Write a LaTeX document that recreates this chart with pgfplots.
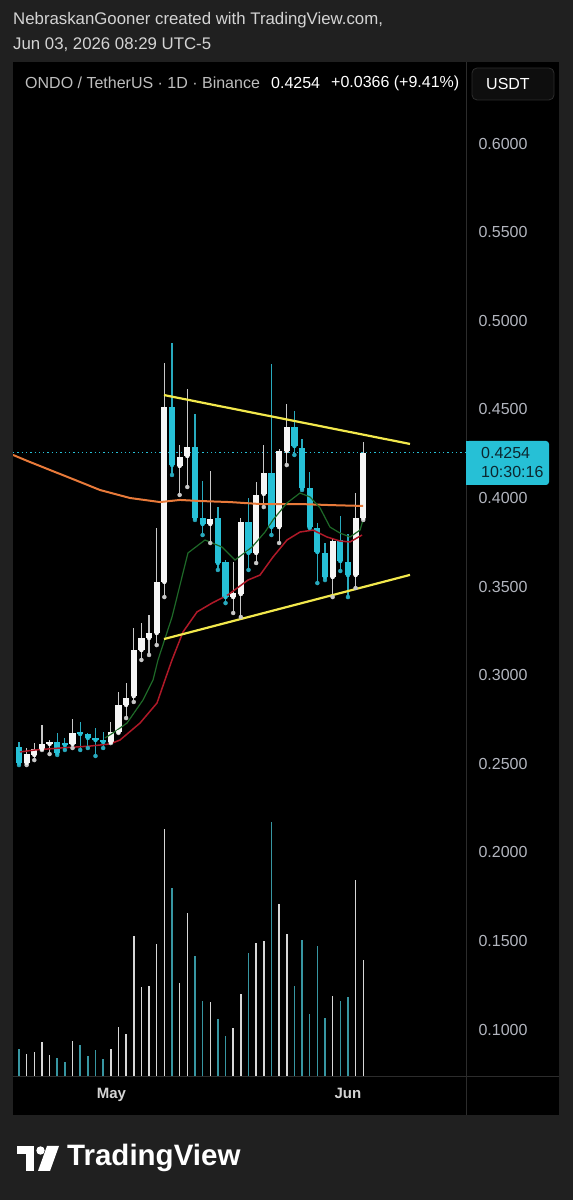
\documentclass[border=0pt]{standalone}
\usepackage{fontspec}
\setmainfont{Liberation Sans}
\usepackage{pgfplots}
\pgfplotsset{compat=1.18}
\usepackage{pgfplotstable}

\definecolor{outerbg}{RGB}{32,32,32}
\definecolor{divider}{RGB}{44,44,44}
\definecolor{tealc}{RGB}{38,192,214}
\definecolor{tealwick}{RGB}{40,170,190}
\definecolor{whitec}{RGB}{245,245,245}
\definecolor{whitewick}{RGB}{200,200,200}
\definecolor{volteal}{RGB}{55,150,162}
\definecolor{volwhite}{RGB}{215,215,215}
\definecolor{maorange}{RGB}{232,122,58}
\definecolor{mared}{RGB}{175,25,40}
\definecolor{magreen}{RGB}{30,105,40}
\definecolor{trendyellow}{RGB}{242,232,76}
\definecolor{toptext}{RGB}{212,212,212}
\definecolor{hdrgray}{RGB}{190,190,190}
\definecolor{ticktext}{RGB}{178,181,190}
\definecolor{boxtext}{RGB}{12,40,48}
\definecolor{usdtbg}{RGB}{14,14,14}
\definecolor{usdtborder}{RGB}{45,45,45}

% bullish (white) candles: day index, open, high, low, close
\pgfplotstableread{
i O H L C
2 0.2505 0.2589 0.2493 0.2555
3 0.2550 0.2617 0.2521 0.2584
4 0.2584 0.2719 0.2578 0.2612
5 0.2612 0.2634 0.2555 0.2623
8 0.2612 0.2753 0.2589 0.2674
13 0.2623 0.2736 0.2617 0.2679
14 0.2679 0.2905 0.2674 0.2832
15 0.2832 0.2956 0.2758 0.2871
16 0.2882 0.3266 0.2849 0.3142
17 0.3142 0.3295 0.3086 0.3210
18 0.3210 0.3340 0.3114 0.3238
19 0.3238 0.3831 0.3170 0.3526
20 0.3526 0.4762 0.3441 0.4514
22 0.4181 0.4299 0.4017 0.4231
23 0.4237 0.4615 0.4062 0.4288
26 0.3853 0.4152 0.3746 0.3881
29 0.3441 0.3639 0.3351 0.3464
30 0.3458 0.3887 0.3328 0.3865
32 0.3690 0.4090 0.3633 0.4017
33 0.4023 0.4299 0.3949 0.4141
35 0.3836 0.4277 0.3746 0.4265
36 0.4265 0.4530 0.4186 0.4401
42 0.3554 0.3774 0.3441 0.3757
45 0.3565 0.4028 0.3492 0.3887
46 0.3887 0.4316 0.3876 0.4254
}\bull

% bearish (teal) candles
\pgfplotstableread{
i O H L C
1 0.2595 0.2623 0.2493 0.2505
6 0.2623 0.2674 0.2550 0.2561
7 0.2617 0.2646 0.2578 0.2606
9 0.2679 0.2736 0.2578 0.2668
10 0.2668 0.2674 0.2589 0.2646
11 0.2646 0.2702 0.2544 0.2634
12 0.2634 0.2679 0.2589 0.2623
21 0.4514 0.4875 0.4130 0.4186
24 0.4288 0.4474 0.3876 0.3887
25 0.3887 0.4096 0.3791 0.3853
27 0.3887 0.3949 0.3594 0.3633
28 0.3639 0.3650 0.3407 0.3441
31 0.3865 0.4000 0.3594 0.3690
34 0.4141 0.4756 0.3791 0.3836
37 0.4401 0.4491 0.4243 0.4293
38 0.4282 0.4333 0.4045 0.4056
39 0.4056 0.4147 0.3831 0.3836
40 0.3831 0.3859 0.3520 0.3695
41 0.3690 0.3746 0.3537 0.3554
43 0.3763 0.3898 0.3588 0.3644
44 0.3639 0.3797 0.3441 0.3565
}\bear

% relative volume
\pgfplotstableread{
i v
2 22
3 24
4 34
5 21
8 35
13 27
14 49
15 42
16 140
17 89
18 90
19 132
20 247
22 93
23 163
26 74
29 48
30 82
32 133
33 135
35 172
36 142
42 80
45 196
46 116
}\volbull
\pgfplotstableread{
i v
1 27
6 18
7 14
9 31
10 20
11 26
12 17
21 188
24 120
25 75
27 57
28 40
31 123
34 254
37 90
38 136
39 62
40 130
41 58
43 75
44 79
}\volbear

\begin{document}
\begin{tikzpicture}[x=1pt,y=1pt]
\path[use as bounding box] (0,0) rectangle (573,1200);
\fill[outerbg] (0,0) rectangle (573,1200);
\fill[black] (13,85) rectangle (559,1138);
\draw[divider, line width=0.8pt] (466.5,85) -- (466.5,1138);
\draw[divider, line width=0.8pt] (13,124) -- (559,124);

% top texts
\node[anchor=west, inner sep=0, text=toptext, font=\fontsize{16.8}{19}\selectfont] at (13,1180) {NebraskanGooner created with TradingView.com,};
\node[anchor=west, inner sep=0, text=toptext, font=\fontsize{16.8}{19}\selectfont] at (13,1155) {Jun 03, 2026 08:29 UTC-5};

% header
\node[anchor=west, inner sep=0, text=hdrgray, font=\fontsize{16}{19}\selectfont] at (25,1117) {ONDO / TetherUS · 1D · Binance};
\node[anchor=west, inner sep=0, text=white, font=\fontsize{16}{19}\selectfont] at (271,1117) {0.4254};
\node[anchor=west, inner sep=0, text=white, font=\fontsize{16}{19}\selectfont] at (331,1117) {+0.0366 (+9.41\%)};
\draw[fill=usdtbg, draw=usdtborder, line width=0.8pt, rounded corners=5pt] (472,1100) rectangle (554,1132);
\node[anchor=west, inner sep=0, text=white, font=\fontsize{16}{19}\selectfont] at (486,1116) {USDT};

% volume pane
\begin{scope}[shift={(13pt,124pt)}]
\begin{axis}[at={(0pt,0pt)}, anchor=south west, scale only axis,
  width=453pt, height=1014pt, xmin=0.216, xmax=59.43, ymin=0, ymax=1014, hide axis]
\addplot[ycomb, volwhite, line width=1.5pt, mark=none] table[x=i,y=v] {\volbull};
\addplot[ycomb, volteal, line width=1.5pt, mark=none] table[x=i,y=v] {\volbear};
\end{axis}
\end{scope}

% price pane
\begin{scope}[shift={(13pt,120pt)}]
\begin{axis}[at={(0pt,0pt)}, anchor=south west, scale only axis,
  width=453pt, height=1018pt, xmin=0.216, xmax=59.43, ymin=0.07156, ymax=0.64605,
  axis line style={draw=none}, tick style={draw=none},
  ytick={0.1,0.15,0.2,0.25,0.3,0.35,0.4,0.45,0.5,0.55,0.6},
  yticklabels={0.1000,0.1500,0.2000,0.2500,0.3000,0.3500,0.4000,0.4500,0.5000,0.5500,0.6000},
  yticklabel pos=right,
  yticklabel style={anchor=west, xshift=9pt, text=ticktext, font=\fontsize{16}{19}\selectfont},
  xtick={13.09,44}, xticklabels={May,Jun},
  xticklabel style={anchor=north, yshift=-5pt, text=toptext, font=\bfseries\fontsize{15}{18}\selectfont},
  /pgf/number format/assume math mode=true]

% last price dotted line
\addplot[tealc, line width=1pt, dash pattern=on 1.3pt off 3pt] coordinates {(0.216,0.4254) (59.43,0.4254)};

% wicks
\addplot[only marks, mark=none, whitewick, error bars/.cd, y dir=plus, y explicit, error mark=none,
  error bar style={line width=1.2pt, whitewick}] table[x=i, y=L, y error plus expr=\thisrow{H}-\thisrow{L}] {\bull};
\addplot[only marks, mark=none, tealwick, error bars/.cd, y dir=plus, y explicit, error mark=none,
  error bar style={line width=1.2pt, tealwick}] table[x=i, y=L, y error plus expr=\thisrow{H}-\thisrow{L}] {\bear};
% bodies
\addplot[only marks, mark=none, whitec, error bars/.cd, y dir=plus, y explicit, error mark=none,
  error bar style={line width=6.2pt, whitec}] table[x=i, y=O, y error plus expr=\thisrow{C}-\thisrow{O}] {\bull};
\addplot[only marks, mark=none, tealc, error bars/.cd, y dir=plus, y explicit, error mark=none,
  error bar style={line width=6.2pt, tealc}] table[x=i, y=C, y error plus expr=\thisrow{O}-\thisrow{C}] {\bear};

% moving averages
\addplot[maorange, line width=2pt, mark=none] coordinates {
(0.216,0.4243) (2.438,0.4203) (5.052,0.4158) (8.32,0.4102) (11.59,0.4045) (15.51,0.4000)
(19.43,0.3977) (22.05,0.3989) (24.66,0.3983) (28.58,0.3977) (32.50,0.3966) (37.73,0.3966)
(41.65,0.3960) (45.97,0.3955)};
\addplot[mared, line width=1.5pt, mark=none] coordinates {
(1.13,0.2567) (3.09,0.2578) (6.36,0.2589) (10.28,0.2600) (12.90,0.2612) (14.20,0.2634)
(16.82,0.2730) (19.04,0.2843) (20.08,0.2973) (21.00,0.3086) (22.44,0.3244) (24.27,0.3357)
(26.23,0.3407) (28.32,0.3453) (30.93,0.3537) (32.50,0.3565) (34.20,0.3667) (36.03,0.3763)
(37.73,0.3808) (39.43,0.3819) (41.26,0.3780) (42.96,0.3757) (44.27,0.3752) (45.84,0.3791)};
\addplot[magreen, line width=1.2pt, mark=none] coordinates {
(12.24,0.2646) (13.29,0.2674) (15.12,0.2730) (17.21,0.2860) (18.52,0.2973) (19.17,0.3086)
(21.00,0.3328) (23.09,0.3690) (25.31,0.3763) (27.54,0.3723) (29.24,0.3650) (31.46,0.3723)
(33.16,0.3808) (34.20,0.3876) (36.03,0.3972) (37.73,0.4028) (39.04,0.4006) (40.35,0.3944)
(41.65,0.3836) (42.96,0.3802) (44.27,0.3780) (45.58,0.3819) (45.97,0.3876)};

% trend lines
\addplot[trendyellow, line width=2.2pt, mark=none] coordinates {(19.95,0.4581) (52.11,0.4305)};
\addplot[trendyellow, line width=2.2pt, mark=none] coordinates {(19.95,0.3204) (52.11,0.3566)};
\end{axis}
\end{scope}

% last price label
\fill[tealc, rounded corners=3pt] (466,715) rectangle (549,759);
\fill[tealc] (466,715) rectangle (472,759);
\node[anchor=west, inner sep=0, text=boxtext, font=\fontsize{16}{19}\selectfont] at (481,747) {0.4254};
\node[anchor=west, inner sep=0, text=boxtext, font=\fontsize{16}{19}\selectfont] at (481,728) {10:30:16};

% TradingView logo
\fill[white] (17,1200-1146) rectangle (34,1200-1154);
\fill[white] (26,1200-1146) rectangle (34,1200-1171);
\fill[white] (40.5,1200-1150.5) circle (4.2);
\fill[white] (47,1200-1146) -- (59,1200-1146) -- (50,1200-1171) -- (38,1200-1171) -- cycle;
\node[anchor=west, inner sep=0, text=white, font=\bfseries\fontsize{29.5}{33}\selectfont] at (67,1200-1158) {TradingView};
\end{tikzpicture}
\end{document}
